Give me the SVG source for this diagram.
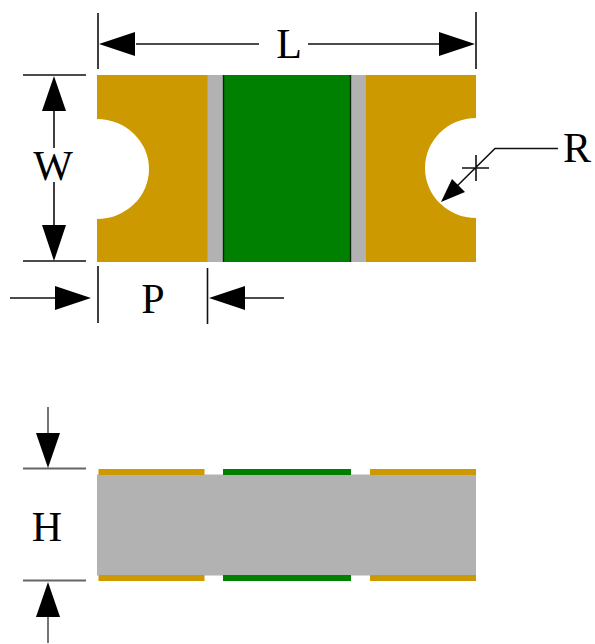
<svg xmlns="http://www.w3.org/2000/svg" width="595" height="644" viewBox="0 0 595 644">
<style>
.l{stroke:#111;stroke-width:1.6;fill:none}
.g{stroke:#666;stroke-width:1.8;fill:none}
.a{fill:#000;stroke:none}
.t{font-family:"Liberation Serif","Times New Roman",serif;font-size:42px;fill:#000;text-anchor:middle}
.cu{fill:#cc9900}.gr{fill:#008000}.s{fill:#b2b2b2}
</style>
<rect width="595" height="644" fill="#fff"/>
<g id="top-body">
<rect class="s" x="207" y="75" width="160" height="187"/>
</g>
<g id="pad-left">
<path class="cu" d="M97 75H207.500V262H97V219A52 50 0 0 0 97 119Z"/>
</g>
<g id="pad-right">
<path class="cu" d="M366 75H476V118A51 50 0 0 0 476 218V262H366Z"/>
</g>
<g id="center">
<rect class="gr" x="223" y="75" width="128" height="187"/>
<path d="M223.500 75V262M350.500 75V262" stroke="#0a2a0a" stroke-width="1.4" fill="none"/>
</g>
<g id="side-body">
<rect class="s" x="97" y="474.500" width="379" height="101"/>
<rect class="cu" x="98.500" y="469" width="106" height="6"/>
<rect class="gr" x="223" y="469" width="128" height="6"/>
<rect class="cu" x="370" y="469" width="106" height="6"/>
<rect class="cu" x="98.500" y="575" width="106" height="6"/>
<rect class="gr" x="223" y="575" width="128" height="6"/>
<rect class="cu" x="370" y="575" width="106" height="6"/>
</g>
<g id="connectors">
<path class="l" d="M98 13V69M476 12V69M136 44H259M308 44H440"/>
<polygon class="a" points="99,44 135,32 135,56"/>
<polygon class="a" points="475,44 439,32 439,56"/>
<path class="l" d="M23 75H86M23 261H86M54 110V148M54 182V226"/>
<polygon class="a" points="54,76 42,111 66,111"/>
<polygon class="a" points="54,261 42,225 66,225"/>
<path class="l" d="M98 266V323M207.500 268V324M10 298H56M244 298H284"/>
<polygon class="a" points="91,298 55,286 55,310"/>
<polygon class="a" points="209,298 245,286 245,310"/>
<path class="l" d="M558 148.500H495L450 193M462 168H489M476 155V181"/>
<polygon class="a" points="441,202 452,179 465,192"/>
<path class="g" d="M23 468.500H86M23 580.500H86M48 407V434M48 616V643"/>
<polygon class="a" points="48,468 36,433 60,433"/>
<polygon class="a" points="48,582 36,617 60,617"/>
</g>
<g id="labels">
<text class="t" x="289" y="58">L</text>
<text class="t" x="53" y="180">W</text>
<text class="t" x="153" y="313">P</text>
<text class="t" x="577" y="162">R</text>
<text class="t" x="47" y="541">H</text>
</g>
</svg>
